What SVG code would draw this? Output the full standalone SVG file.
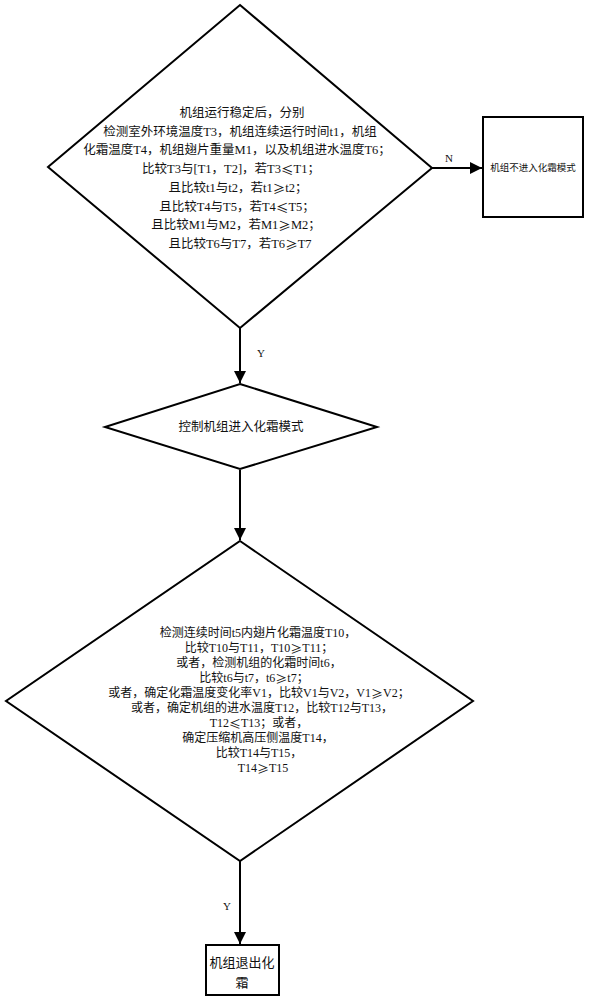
<svg xmlns="http://www.w3.org/2000/svg" width="589" height="1000" viewBox="0 0 589 1000">
<style>
.shape{fill:#fff;stroke:#000;stroke-width:2}
.t{font-family:"Liberation Serif","Noto Sans CJK SC",serif;fill:#111;text-anchor:middle;dominant-baseline:central}
.c{font-family:"Noto Sans CJK SC",sans-serif}
.line{stroke:#000;stroke-width:2;fill:none}
</style>
<defs>
<marker id="ah" markerUnits="userSpaceOnUse" markerWidth="13" markerHeight="12" refX="12" refY="6" orient="auto">
<path d="M0,0 L12,6 L0,12 z" fill="#000"/>
</marker>
</defs>
<rect width="589" height="1000" fill="#fff"/>
<g id="connectors">
<line class="line" x1="432" y1="168" x2="482" y2="168" marker-end="url(#ah)"/>
<line class="line" x1="240" y1="328" x2="240" y2="383" marker-end="url(#ah)"/>
<line class="line" x1="240" y1="470" x2="240" y2="540" marker-end="url(#ah)"/>
<line class="line" x1="240" y1="861" x2="240" y2="944" marker-end="url(#ah)"/>
<text class="t" x="449" y="158" font-size="11">N</text>
<text class="t" x="261" y="353" font-size="11">Y</text>
<text class="t" x="227" y="906" font-size="11">Y</text>
</g>
<g id="decision1">
<polygon class="shape" points="240,5 432,168 240,328 48,167"/>
<g font-size="12.5">
<text class="t" x="242" y="113">机组运行稳定后，分别</text>
<text class="t" x="240" y="132">检测室外环境温度T3，机组连续运行时间t1，机组</text>
<text class="t" x="237" y="150">化霜温度T4，机组翅片重量M1，以及机组进水温度T6；</text>
<text class="t" x="231" y="169">比较T3与[T1，T2]，若T3<tspan class="c">≤</tspan>T1；</text>
<text class="t" x="238" y="188">且比较t1与t2，若t1<tspan class="c">≥</tspan>t2；</text>
<text class="t" x="237" y="207">且比较T4与T5，若T4<tspan class="c">≤</tspan>T5；</text>
<text class="t" x="236" y="225">且比较M1与M2，若M1<tspan class="c">≥</tspan>M2；</text>
<text class="t" x="240" y="244">且比较T6与T7，若T6<tspan class="c">≥</tspan>T7</text>
</g>
</g>
<g id="box-no">
<rect class="shape" x="483" y="117" width="100" height="100"/>
<text class="t" x="533" y="168" font-size="9.5">机组不进入化霜模式</text>
</g>
<g id="decision2">
<polygon class="shape" points="240,384 377,427 240,469 105,427"/>
<text class="t" x="241" y="427" font-size="12.5">控制机组进入化霜模式</text>
</g>
<g id="decision3">
<polygon class="shape" points="240,541 473,701 240,861 6,701"/>
<g font-size="12">
<text class="t" x="258" y="633">检测连续时间t5内翅片化霜温度T10，</text>
<text class="t" x="259" y="648">比较T10与T11，T10<tspan class="c">≥</tspan>T11；</text>
<text class="t" x="259" y="663">或者，检测机组的化霜时间t6，</text>
<text class="t" x="254" y="678">比较t6与t7，t6<tspan class="c">≥</tspan>t7；</text>
<text class="t" x="259" y="693">或者，确定化霜温度变化率V1，比较V1与V2，V1<tspan class="c">≥</tspan>V2；</text>
<text class="t" x="262" y="708">或者，确定机组的进水温度T12，比较T12与T13，</text>
<text class="t" x="259" y="723">T12<tspan class="c">≤</tspan>T13；或者，</text>
<text class="t" x="258" y="738">确定压缩机高压侧温度T14，</text>
<text class="t" x="259" y="753">比较T14与T15，</text>
<text class="t" x="263" y="768">T14<tspan class="c">≥</tspan>T15</text>
</g>
</g>
<g id="box-exit">
<rect class="shape" x="206" y="945" width="73" height="50"/>
<text class="t" x="242" y="962" font-size="13">机组退出化</text>
<text class="t" x="242" y="982" font-size="13">霜</text>
</g>
</svg>
